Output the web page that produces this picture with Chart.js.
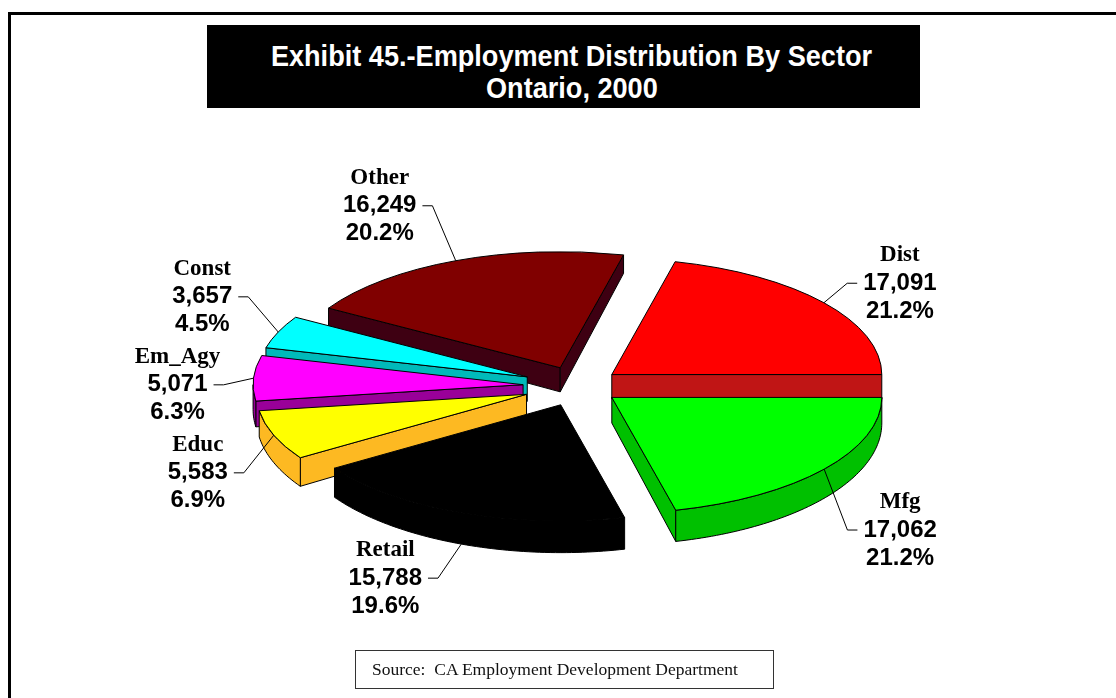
<!DOCTYPE html>
<html>
<head>
<meta charset="utf-8">
<title>Employment Distribution By Sector - Ontario, 2000</title>
<script src="https://cdn.jsdelivr.net/npm/chart.js@4.4.1/dist/chart.umd.min.js"></script>
<style>
  html, body { margin: 0; padding: 0; background: #fff; overflow: hidden; }
  #page { position: relative; width: 1116px; height: 698px; overflow: hidden; }
  #frame {
    position: absolute; left: 8px; top: 12px; width: 1200px; height: 800px;
    border-left: 3px solid #000; border-top: 3px solid #000;
  }
  #title {
    position: absolute; left: 207px; top: 25px; width: 713px; height: 83px;
    box-sizing: border-box; padding-top: 15px; padding-left: 16px;
    background: #000; color: #fff; text-align: center;
    font: bold 29px "Liberation Sans", Arial, sans-serif; line-height: 32px;
  }
  #title span { display: inline-block; transform: scaleX(0.935); white-space: nowrap; }
  #source {
    position: absolute; left: 355px; top: 650px; width: 419px; height: 39px;
    box-sizing: border-box; border: 1px solid #333; padding-left: 16px;
    font: 17.5px "Liberation Serif", "Times New Roman", serif; line-height: 37px;
    white-space: pre; color: #111;
  }
  canvas { position: absolute; left: 0; top: 0; }
</style>
</head>
<body>
<div id="page">
  <div id="frame"></div>
  <div id="title"><span>Exhibit 45.-Employment Distribution By Sector</span><br><span>Ontario, 2000</span></div>
  <canvas id="sectorChart" width="1116" height="698"></canvas>
  <div id="source">Source:  CA Employment Development Department</div>
</div>
<script>
// sectors, clockwise from 3 o'clock
const categories = ['Mfg', 'Retail', 'Educ', 'Em_Agy', 'Const', 'Other', 'Dist'];
const employment = [17062, 15788, 5583, 5071, 3657, 16249, 17091];

const topColors  = ['#00ff00', '#000000', '#ffff00', '#ff00ff', '#00ffff', '#800000', '#ff0000'];
const sideColors = ['#00c000', '#000000', '#fdb922', '#990099', '#00baba', '#3e0012', '#c01515'];
// slice pull-out (ArcElement draws offset / 4)
const explodeOffsets = [172, 188, 220, 220, 220, 184, 172];

const TILT = 0.43;          // vertical squash of the pie disc
const LINE_GAP = 28;        // label line spacing
const LABEL_MIN_SPACING = 88;

function depthAt(y, cy) {
    return 25 + 0.05 * (y - cy);
}

function sliceGeom(arc) {
    const mid = (arc.startAngle + arc.endAngle) / 2;
    const push = (arc.options.offset || 0) / 4;
    return {
        start: arc.startAngle,
        end: arc.endAngle,
        mid: mid,
        cy: arc.y,
        vx: arc.x + Math.cos(mid) * push,
        vy: arc.y + Math.sin(mid) * push * TILT,
        r: arc.outerRadius
    };
}

function rimPoint(g, a) {
    return { x: g.vx + g.r * Math.cos(a), y: g.vy + g.r * TILT * Math.sin(a) };
}

function fillFace(ctx, pts, fill, stroke) {
    ctx.beginPath();
    ctx.moveTo(pts[0].x, pts[0].y);
    for (let i = 1; i < pts.length; i++) ctx.lineTo(pts[i].x, pts[i].y);
    ctx.closePath();
    ctx.fillStyle = fill;
    ctx.fill();
    ctx.strokeStyle = stroke;
    ctx.stroke();
}

function drawSlice(ctx, g, top, side, stroke) {
    const v = { x: g.vx, y: g.vy };
    const vb = { x: g.vx, y: g.vy + depthAt(g.vy, g.cy) };

    // radial cut faces that turn toward the viewer
    if (Math.cos(g.start) < 0) {
        const p = rimPoint(g, g.start);
        fillFace(ctx, [v, p, { x: p.x, y: p.y + depthAt(p.y, g.cy) }, vb], side, stroke);
    }
    if (Math.cos(g.end) > 0) {
        const p = rimPoint(g, g.end);
        fillFace(ctx, [v, p, { x: p.x, y: p.y + depthAt(p.y, g.cy) }, vb], side, stroke);
    }

    // outer rim on the front half
    const a1 = Math.max(g.start, 0);
    const a2 = Math.min(g.end, Math.PI);
    if (a2 > a1) {
        const n = Math.max(2, Math.ceil((a2 - a1) / 0.02));
        const upper = [], lower = [];
        for (let i = 0; i <= n; i++) {
            const p = rimPoint(g, a1 + (a2 - a1) * i / n);
            upper.push(p);
            lower.push({ x: p.x, y: p.y + depthAt(p.y, g.cy) });
        }
        fillFace(ctx, upper.concat(lower.reverse()), side, stroke);
    }

    // top face
    ctx.beginPath();
    ctx.moveTo(g.vx, g.vy);
    ctx.ellipse(g.vx, g.vy, g.r, g.r * TILT, 0, g.start, g.end);
    ctx.closePath();
    ctx.fillStyle = top;
    ctx.fill();
    ctx.strokeStyle = stroke;
    ctx.stroke();
}

const pie3d = {
    id: 'pie3d',
    beforeDatasetsDraw(chart) {
        const ctx = chart.ctx;
        const meta = chart.getDatasetMeta(0);
        const slices = meta.data.map((arc, i) => ({ arc, i, g: sliceGeom(arc) }));
        // paint from the back of the disc to the front
        slices.sort((a, b) => rimPoint(a.g, a.g.mid).y - rimPoint(b.g, b.g.mid).y);

        ctx.save();
        ctx.lineWidth = 1;
        ctx.lineJoin = 'round';
        slices.forEach(s => {
            drawSlice(ctx, s.g, s.arc.options.backgroundColor, sideColors[s.i], s.arc.options.borderColor);
        });
        ctx.restore();
        return false;
    },
    afterDraw(chart) {
        const ctx = chart.ctx;
        const meta = chart.getDatasetMeta(0);
        const total = employment.reduce((a, b) => a + b, 0);

        const labels = meta.data.map((arc, i) => {
            const g = sliceGeom(arc);
            const c = Math.cos(g.mid), s = Math.sin(g.mid);
            const rim = rimPoint(g, g.mid);
            const side = c >= 0 ? 1 : -1;
            const anchor = { x: rim.x, y: rim.y };
            if (s > 0.8) anchor.y += depthAt(rim.y, g.cy);
            return {
                i, side, anchor,
                x: rim.x + side * 76,
                y: rim.y + 65 * s + 5 + 20 * Math.max(0, c)
            };
        });

        // keep stacked labels on each side from running into each other
        [-1, 1].forEach(side => {
            const group = labels.filter(l => l.side === side).sort((a, b) => a.y - b.y);
            for (let pass = 0; pass < 20; pass++) {
                for (let k = 1; k < group.length; k++) {
                    const gap = group[k].y - group[k - 1].y;
                    if (gap < LABEL_MIN_SPACING) {
                        const shift = (LABEL_MIN_SPACING - gap) / 2;
                        group[k - 1].y -= shift;
                        group[k].y += shift;
                    }
                }
            }
        });

        ctx.save();
        ctx.fillStyle = '#000';
        ctx.strokeStyle = '#000';
        ctx.lineWidth = 1;
        ctx.textAlign = 'center';
        ctx.textBaseline = 'middle';
        labels.forEach(l => {
            const value = employment[l.i].toLocaleString('en-US');
            const pct = (employment[l.i] / total * 100).toFixed(1) + '%';

            ctx.font = 'bold 23px "Liberation Serif", "Times New Roman", serif';
            ctx.fillText(categories[l.i], l.x, l.y - LINE_GAP);
            ctx.font = 'bold 24px "Liberation Sans", Arial, sans-serif';
            ctx.fillText(value, l.x, l.y);
            ctx.fillText(pct, l.x, l.y + LINE_GAP);

            // leader line from the value text back to its slice
            const w = ctx.measureText(value).width;
            const x0 = l.x - l.side * (w / 2 + 6);
            const x1 = x0 - l.side * 10;
            ctx.beginPath();
            ctx.moveTo(x0, l.y);
            ctx.lineTo(x1, l.y);
            ctx.lineTo(l.anchor.x, l.anchor.y);
            ctx.stroke();
        });
        ctx.restore();
    }
};

new Chart(document.getElementById('sectorChart'), {
    type: 'pie',
    data: {
        labels: categories,
        datasets: [{
            data: employment,
            backgroundColor: topColors,
            borderColor: '#000',
            borderWidth: 1,
            offset: explodeOffsets
        }]
    },
    options: {
        responsive: false,
        animation: false,
        events: [],
        rotation: 90,
        radius: 270,
        layout: { padding: { left: 40, top: 74 } },
        plugins: {
            legend: { display: false },
            tooltip: { enabled: false }
        }
    },
    plugins: [pie3d]
});
</script>
</body>
</html>
